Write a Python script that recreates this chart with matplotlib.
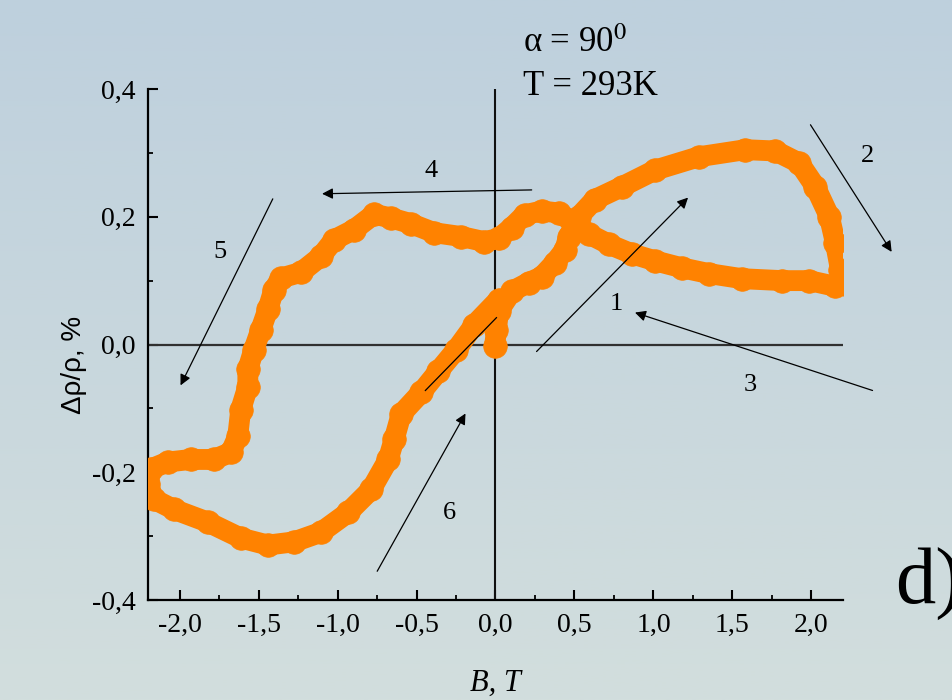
import numpy as np
import matplotlib
matplotlib.use('Agg')
import matplotlib.pyplot as plt
from matplotlib.ticker import FuncFormatter, MultipleLocator

# Magnetoresistance loop, B in T, drho/rho in %
B = [-0.006, 0.006, 0.019, 0.102, 0.210, 0.292, 0.375, 0.438, 0.463, 0.527,
     0.629, 0.800, 1.010, 1.289, 1.581, 1.771, 1.924, 2.025, 2.114, 2.152,
     2.184, 2.210, 2.152, 1.987, 1.816, 1.562, 1.352, 1.181, 1.010, 0.863,
     0.717, 0.590, 0.483, 0.400, 0.292, 0.184, 0.102, 0.019, -0.070, -0.216,
     -0.387, -0.533, -0.660, -0.768, -0.895, -1.022, -1.105, -1.232, -1.359, -1.403,
     -1.441, -1.486, -1.530, -1.568, -1.568, -1.613, -1.632, -1.676, -1.784, -1.930,
     -2.076, -2.184, -2.197, -2.165, -2.038, -1.822, -1.613, -1.441, -1.276, -1.105,
     -0.933, -0.787, -0.679, -0.641, -0.597, -0.470, -0.362, -0.248, -0.133, 0.019]
drho = [-0.003, 0.023, 0.052, 0.083, 0.097, 0.106, 0.128, 0.148, 0.169, 0.200,
        0.227, 0.247, 0.273, 0.294, 0.305, 0.303, 0.284, 0.247, 0.200, 0.159,
        0.117, 0.094, 0.091, 0.100, 0.100, 0.103, 0.111, 0.120, 0.131, 0.142,
        0.157, 0.173, 0.193, 0.206, 0.209, 0.203, 0.183, 0.166, 0.161, 0.169,
        0.175, 0.189, 0.198, 0.204, 0.180, 0.164, 0.138, 0.113, 0.104, 0.086,
        0.055, 0.023, -0.008, -0.039, -0.066, -0.102, -0.144, -0.169, -0.180, -0.180,
        -0.184, -0.195, -0.219, -0.242, -0.258, -0.278, -0.303, -0.314, -0.309, -0.294,
        -0.263, -0.227, -0.180, -0.148, -0.109, -0.075, -0.042, -0.008, 0.031, 0.070]

# Arrows: (x_start, y_start, x_end, y_end) in data units, label and label position
arrows = [(0.26, -0.011, 1.219, 0.230),
          (1.994, 0.344, 2.508, 0.145),
          (2.387, -0.072, 0.883, 0.050),
          (0.229, 0.242, -1.098, 0.236),
          (-1.410, 0.228, -1.994, -0.064),
          (-0.749, -0.355, -0.190, -0.108)]
labels = ['1', '2', '3', '4', '5', '6']
label_x = [0.762, 2.356, 1.613, -0.406, -1.746, -0.292]
label_y = [0.064, 0.295, -0.064, 0.272, 0.145, -0.264]
# plain guide line near the origin (no head)
guide = (-0.444, -0.072, 0.006, 0.042)

x_ticks = [-2.0, -1.5, -1.0, -0.5, 0.0, 0.5, 1.0, 1.5, 2.0]
y_ticks = [-0.4, -0.2, 0.0, 0.2, 0.4]

plt.rcParams['font.family'] = ['Liberation Serif', 'DejaVu Serif']
plt.rcParams['mathtext.fontset'] = 'stix'

fontsize = 20
orange = '#ff8200'

fig = plt.figure(figsize=(9.53, 7.0), dpi=100)

# background gradient
bg = fig.add_axes([0, 0, 1, 1], zorder=-1)
top = np.array([190, 208, 221]) / 255.0
bot = np.array([210, 222, 221]) / 255.0
t = np.linspace(0, 1, 256)[:, None]
grad = top[None, :] * (1 - t) + bot[None, :] * t
bg.imshow(grad[:, None, :], aspect='auto', extent=[0, 1, 0, 1])
bg.axis('off')

ax = fig.add_axes([148 / 953, 100 / 700, 695 / 953, 511 / 700], zorder=1)
ax.set_facecolor('none')

ax.axhline(0, color='#303030', lw=1.6, zorder=2)
ax.axvline(0, color='#101010', lw=1.5, zorder=2)

ax.plot(B, drho, color=orange, lw=15, solid_joinstyle='round', solid_capstyle='round',
        marker='o', markersize=17, markerfacecolor=orange, markeredgecolor=orange,
        markeredgewidth=0.5, zorder=3)

for (x0, y0, x1, y1) in arrows:
    ax.annotate('', xy=(x1, y1), xytext=(x0, y0), annotation_clip=False, zorder=5,
                arrowprops=dict(arrowstyle='-|>', color='black', lw=0.9,
                                mutation_scale=16, shrinkA=0, shrinkB=0))
ax.plot([guide[0], guide[2]], [guide[1], guide[3]], color='black', lw=0.9, zorder=5)

for i in range(len(labels)):
    ax.text(label_x[i], label_y[i], labels[i], fontsize=19, ha='center', va='center',
            zorder=6, clip_on=False)

ax.set_xlim(-2.2, 2.2)
ax.set_ylim(-0.4, 0.4)
ax.set_xticks(x_ticks)
ax.set_yticks(y_ticks)
ax.xaxis.set_minor_locator(MultipleLocator(0.25))
ax.yaxis.set_minor_locator(MultipleLocator(0.1))
fmt = FuncFormatter(lambda v, p: ('%.1f' % v).replace('.', ','))
ax.xaxis.set_major_formatter(fmt)
ax.yaxis.set_major_formatter(fmt)
ax.tick_params(which='major', direction='in', length=7, width=1.5, labelsize=fontsize, pad=9)
ax.tick_params(which='minor', direction='in', length=3.5, width=1.3)

for s in ['top', 'right']:
    ax.spines[s].set_visible(False)
for s in ['left', 'bottom']:
    ax.spines[s].set_linewidth(1.6)

ax.set_xlabel('B, T', fontsize=22, style='italic')
ax.xaxis.set_label_coords(0.5, -0.135)
ax.set_ylabel('Δρ/ρ, %', fontsize=20, family=['Liberation Sans', 'DejaVu Sans'])
ax.yaxis.set_label_coords(-0.088, 0.46)

fig.text(523 / 953, 1 - 52 / 700, 'α = 90$^{0}$', fontsize=25, va='baseline')
fig.text(523 / 953, 1 - 95 / 700, 'T = 293K', fontsize=25, va='baseline')
fig.text(895 / 953, 1 - 604 / 700, 'd)', fontsize=58, va='baseline')

plt.savefig('out.png', dpi=100)
